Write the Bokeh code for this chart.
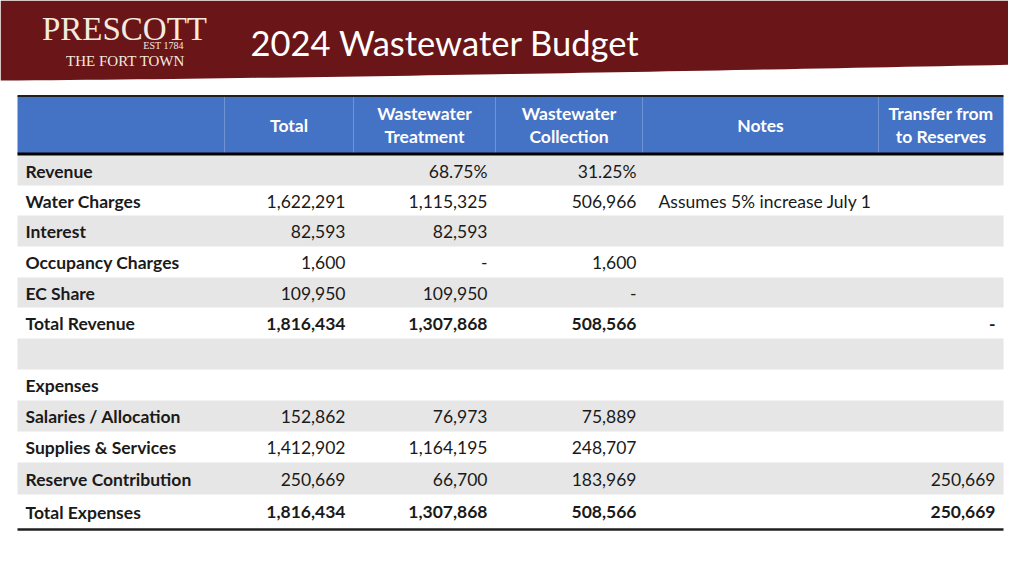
import numpy as np
from bokeh.plotting import figure
from bokeh.models import Range1d
from bokeh.core.properties import value
from bokeh.embed import file_html
from bokeh.resources import INLINE

# ---------------- data ----------------
title = "2024 Wastewater Budget"
col_headers = [["Total"], ["Wastewater", "Treatment"], ["Wastewater", "Collection"],
               ["Notes"], ["Transfer from", "to Reserves"]]
row_labels = ["Revenue", "Water Charges", "Interest", "Occupancy Charges", "EC Share",
              "Total Revenue", "", "Expenses", "Salaries / Allocation",
              "Supplies & Services", "Reserve Contribution", "Total Expenses"]
total = [None, 1622291, 82593, 1600, 109950, 1816434, None, None, 152862, 1412902, 250669, 1816434]
treatment = [None, 1115325, 82593, 0, 109950, 1307868, None, None, 76973, 1164195, 66700, 1307868]
collection = [None, 506966, None, 1600, 0, 508566, None, None, 75889, 248707, 183969, 508566]
notes = ["", "Assumes 5% increase July 1", "", "", "", "", "", "", "", "", "", ""]
transfer = [None, None, None, None, None, 0, None, None, None, None, 250669, 250669]
share_treatment = 68.75
share_collection = 31.25
bold_rows = ["Total Revenue", "Total Expenses"]

# ---------------- layout ----------------
W, H = 1008, 560
p = figure(width=W, height=H, output_backend="svg", toolbar_location=None,
           x_range=Range1d(0, W), y_range=Range1d(H, 0),
           min_border=0, outline_line_color=None)
p.axis.visible = False
p.grid.visible = False
p.background_fill_color = "white"
p.border_fill_color = "white"

FONT = "Lato"
RED = "#6a1517"
BLUE = "#4472c4"
GRAY = "#e7e6e6"

# banner with curved lower edge
bx = np.linspace(0, W, 60)
by = 80 - 16 * (bx / 1024) ** 1.3
p.patch(np.concatenate([[0], bx, [W]]), np.concatenate([[0], by, [0]]),
        fill_color=RED, line_color=None)

# logo
cream = "#f3ebe0"
p.text(x=[124], y=[28], text=["PRESCOTT"], text_font=value("Liberation Serif"),
       text_font_size="33px", text_color=cream, text_align="center", text_baseline="middle")
p.text(x=[163], y=[45], text=["EST 1784"], text_font=value("Liberation Serif"),
       text_font_size="10px", text_color=cream, text_align="center", text_baseline="middle")
p.text(x=[125], y=[60], text=["THE FORT TOWN"], text_font=value("Liberation Serif"),
       text_font_size="15px", text_color=cream, text_align="center", text_baseline="middle")

# title
p.text(x=[250], y=[42], text=[title], text_font=value(FONT), text_font_size="34.5px",
       text_color="white", text_align="left", text_baseline="middle")

# table geometry
L, R = 17, 1003
col_edges = [224, 353, 495, 642, 878]
head_top, head_bot = 96, 153
row_edges = [155, 185, 215, 246, 277, 307, 338, 369, 400, 431, 462, 494, 528]

# header
p.quad(left=[L], right=[R], top=[head_top], bottom=[head_bot], fill_color=BLUE, line_color=None)
p.segment(x0=col_edges, x1=col_edges, y0=[head_top] * 5, y1=[head_bot] * 5,
          line_color="#6f93d3", line_width=1)
centers = [(col_edges[i] + (col_edges[i + 1] if i + 1 < 5 else R)) / 2 for i in range(5)]
hx, hy, ht = [], [], []
for c, lines in zip(centers, col_headers):
    if len(lines) == 1:
        hx.append(c); hy.append(125); ht.append(lines[0])
    else:
        hx += [c, c]; hy += [113, 136]; ht += lines
p.text(x=hx, y=hy, text=ht, text_font=value(FONT), text_font_style="bold",
       text_font_size="17.5px", text_color="white", text_align="center", text_baseline="middle")

# row backgrounds
n = len(row_labels)
tops = row_edges[:-1]
bots = row_edges[1:]
g = [i for i in range(n) if i % 2 == 0]
p.quad(left=[L] * len(g), right=[R] * len(g), top=[tops[i] for i in g],
       bottom=[bots[i] for i in g], fill_color=GRAY, line_color=None)

# rules
p.segment(x0=[L], x1=[R], y0=[95.5], y1=[95.5], line_color="#1f1f1f", line_width=2)
p.segment(x0=[L], x1=[R], y0=[153.5], y1=[153.5], line_color="black", line_width=3)
p.segment(x0=[L], x1=[R], y0=[529], y1=[529], line_color="#1f1f1f", line_width=2.5)

mids = [(t + b) / 2 + 0.5 for t, b in zip(tops, bots)]


def fmt(v):
    if v is None:
        return ""
    if v == 0:
        return "-"
    return f"{v:,}"


TXT = "#1a1a1a"
FS = "17.5px"
# labels
p.text(x=[25] * n, y=mids, text=row_labels, text_font=value(FONT), text_font_style="bold",
       text_font_size=FS, text_color=TXT, text_align="left", text_baseline="middle")

anchors = [(total, 345), (treatment, 487), (collection, 636), (transfer, 995)]
for vals, ax in anchors:
    for style in ["normal", "bold"]:
        xs, ys, ts = [], [], []
        for i, v in enumerate(vals):
            s = fmt(v)
            if not s:
                continue
            is_bold = row_labels[i] in bold_rows
            if (style == "bold") != is_bold:
                continue
            xs.append(ax); ys.append(mids[i]); ts.append(s)
        if xs:
            p.text(x=xs, y=ys, text=ts, text_font=value(FONT), text_font_style=style,
                   text_font_size=FS, text_color=TXT, text_align="right", text_baseline="middle")

# shares on Revenue row
p.text(x=[487, 636], y=[mids[0]] * 2,
       text=[f"{share_treatment:.2f}%", f"{share_collection:.2f}%"],
       text_font=value(FONT), text_font_size=FS, text_color=TXT,
       text_align="right", text_baseline="middle")

# notes
nx = [658 for t in notes if t]
ny = [mids[i] for i, t in enumerate(notes) if t]
nt = [t for t in notes if t]
p.text(x=nx, y=ny, text=nt, text_font=value(FONT), text_font_size=FS, text_color=TXT,
       text_align="left", text_baseline="middle")

open("out.html", "w").write(file_html(p, INLINE))
